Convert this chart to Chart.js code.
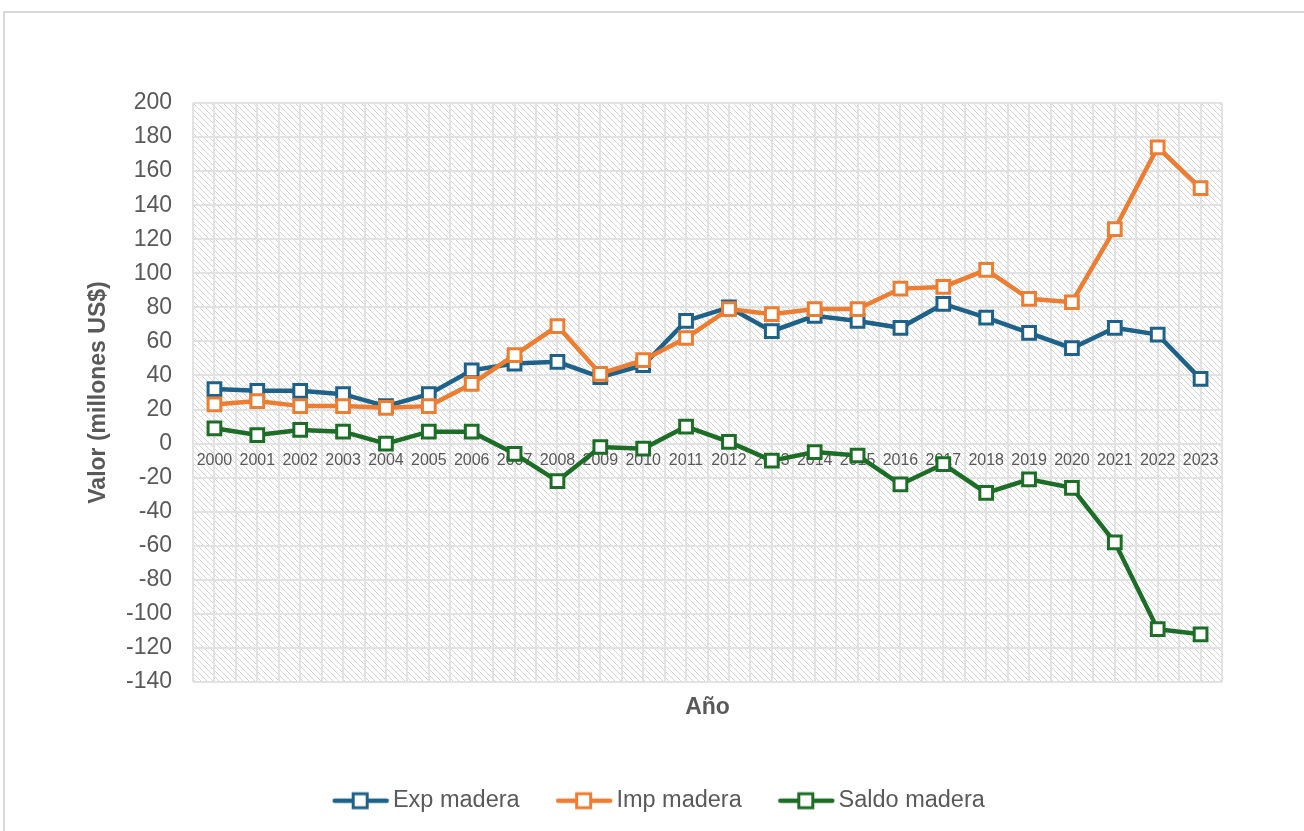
<!DOCTYPE html>
<html>
<head>
<meta charset="utf-8">
<script src="https://cdn.jsdelivr.net/npm/chart.js@4"></script>
<style>
  html, body { margin: 0; padding: 0; background: #fff; overflow: hidden; }
  #frame { position: absolute; left: 3px; top: 11px; width: 1400px; height: 900px; border: 2px solid #d9d9d9; }
  #wrap { position: absolute; left: 0; top: 0; width: 1304px; height: 831px; }
</style>
</head>
<body>
<div id="frame"></div>
<div id="wrap"><canvas id="chart"></canvas></div>
<script>
const years = ['2000','2001','2002','2003','2004','2005','2006','2007','2008','2009','2010','2011',
               '2012','2013','2014','2015','2016','2017','2018','2019','2020','2021','2022','2023'];
const expMadera   = [32, 31, 31, 29, 22, 29, 43, 47, 48, 39, 46, 72, 80, 66, 75, 72, 68, 82, 74, 65, 56, 68, 64, 38];
const impMadera   = [23, 25, 22, 22, 21, 22, 35, 52, 69, 41, 49, 62, 79, 76, 79, 79, 91, 92, 102, 85, 83, 126, 174, 150];
const saldoMadera = [9, 5, 8, 7, 0, 7, 7, -6, -22, -2, -3, 10, 1, -10, -5, -7, -24, -12, -29, -21, -26, -58, -109, -112];
const seriesNames = ['Exp madera', 'Imp madera', 'Saldo madera'];
const yMin = -140, yMax = 200, yStep = 20;

const colors = ['#1f6289', '#ed7d31', '#1c6e26'];
const gridColor = '#e2e2e2';
const textColor = '#595959';
const fontFamily = '"Liberation Sans", Arial, sans-serif';

// diagonal hatch for the plot area
const hatch = document.createElement('canvas');
hatch.width = 6; hatch.height = 6;
const hctx = hatch.getContext('2d');
hctx.fillStyle = '#fff';
hctx.fillRect(0, 0, 6, 6);
hctx.fillStyle = '#d4d4d4';
for (let i = 0; i < 6; i++) hctx.fillRect(i, i, 1, 1);

function legendIcon(color) {
    const c = document.createElement('canvas');
    c.width = 58; c.height = 20;
    const g = c.getContext('2d');
    g.strokeStyle = color;
    g.lineWidth = 4.5;
    g.lineCap = 'round';
    g.beginPath(); g.moveTo(3, 10); g.lineTo(55, 10); g.stroke();
    g.fillStyle = '#fff';
    g.lineWidth = 3;
    g.fillRect(21.5, 3, 14, 14);
    g.strokeRect(21.5, 3, 14, 14);
    return c;
}

const plotBackground = {
    id: 'plotBackground',
    beforeDraw(chart) {
        const {ctx, chartArea: a} = chart;
        ctx.save();
        ctx.fillStyle = ctx.createPattern(hatch, 'repeat');
        ctx.fillRect(a.left, a.top, a.right - a.left, a.bottom - a.top);
        ctx.restore();
    }
};

function makeSeries(label, data, i) {
    return {
        label: label,
        data: data,
        borderColor: colors[i],
        backgroundColor: colors[i],
        borderWidth: 4.5,
        pointStyle: 'rect',
        pointRadius: 9,
        pointHoverRadius: 9,
        pointBorderWidth: 3,
        pointBackgroundColor: '#fff',
        pointBorderColor: colors[i],
        tension: 0,
        order: 3 - i
    };
}

new Chart(document.getElementById('chart'), {
    type: 'line',
    data: {
        labels: years,
        datasets: [
            makeSeries(seriesNames[0], expMadera, 0),
            makeSeries(seriesNames[1], impMadera, 1),
            makeSeries(seriesNames[2], saldoMadera, 2)
        ]
    },
    plugins: [plotBackground],
    options: {
        responsive: true,
        maintainAspectRatio: false,
        animation: false,
        layout: { padding: { left: 103, right: 82, top: 103, bottom: 8.5 } },
        plugins: {
            tooltip: { enabled: false },
            legend: {
                position: 'bottom',
                labels: {
                    usePointStyle: true,
                    pointStyleWidth: 41,
                    padding: 44,
                    color: textColor,
                    font: { family: fontFamily, size: 23.5 },
                    generateLabels(chart) {
                        return chart.data.datasets.map((ds, i) => ({
                            text: ds.label,
                            pointStyle: legendIcon(colors[i]),
                            fillStyle: colors[i],
                            strokeStyle: colors[i],
                            fontColor: textColor,
                            lineWidth: 0,
                            hidden: false,
                            datasetIndex: i
                        }));
                    }
                }
            }
        },
        scales: {
            x: {
                type: 'category',
                position: { y: 0 },
                offset: true,
                grid: { offset: true, color: gridColor, lineWidth: 2, drawTicks: false },
                border: { display: false },
                ticks: {
                    color: textColor,
                    font: { family: fontFamily, size: 16 },
                    padding: 7,
                    autoSkip: false,
                    maxRotation: 0
                }
            },
            x2: {
                type: 'category',
                labels: years,
                position: 'bottom',
                offset: true,
                grid: { offset: false, color: gridColor, lineWidth: 2, drawTicks: false },
                border: { display: false },
                ticks: { display: false },
                title: {
                    display: true,
                    text: 'Año',
                    color: textColor,
                    font: { family: fontFamily, size: 23, weight: 'bold' },
                    padding: { top: 0, bottom: 24 }
                },
                afterFit(scale) { scale.height = 63; }
            },
            y: {
                min: yMin,
                max: yMax,
                grid: { color: gridColor, lineWidth: 2, drawTicks: false },
                border: { display: false },
                ticks: {
                    stepSize: yStep,
                    color: textColor,
                    font: { family: fontFamily, size: 23 },
                    padding: 21
                },
                title: {
                    display: true,
                    text: 'Valor (millones US$)',
                    color: textColor,
                    font: { family: fontFamily, size: 23, weight: 'bold' },
                    padding: { top: -18, bottom: 0 }
                },
                afterFit(scale) { scale.width = 90; }
            }
        }
    }
});
</script>
</body>
</html>
